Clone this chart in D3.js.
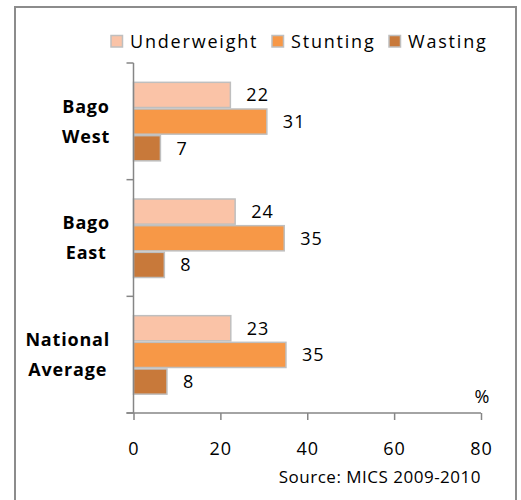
<!DOCTYPE html>
<html><head><meta charset="utf-8">
<script src="https://cdn.jsdelivr.net/npm/d3@7"></script>
<style>body{margin:0;background:#fff}svg{display:block;font-family:"Open Sans",sans-serif}</style>
</head><body><svg id="c" width="521" height="500"></svg>
<script>
const categories = [["Bago","West"],["Bago","East"],["National","Average"]];
const seriesNames = ["Underweight","Stunting","Wasting"];
const underweight = [22.3, 23.4, 22.4];
const stunting = [30.7, 34.7, 35.1];
const wasting = [6.2, 7.1, 7.7];
const underweightLabels = ["22","24","23"];
const stuntingLabels = ["31","35","35"];
const wastingLabels = ["7","8","8"];
const xTicks = [0,20,40,60,80];
const colors = ["#FAC3A7","#F79847","#C8793A"];

const svg = d3.select("#c");
svg.append("rect").attr("x",15).attr("y",7).attr("width",501).attr("height",500)
  .attr("fill","none").attr("stroke","#8C8C8C").attr("stroke-width",2);

const x = d3.scaleLinear().domain([0,80]).range([133.5,481]);
const y = d3.scaleBand().domain(d3.range(categories.length)).range([63,413]);
const inner = d3.scaleBand().domain(d3.range(3)).range([0,80]);

const series = [
  {name:seriesNames[0], vals:underweight, labels:underweightLabels},
  {name:seriesNames[1], vals:stunting, labels:stuntingLabels},
  {name:seriesNames[2], vals:wasting, labels:wastingLabels}
];
const groupOffset = (y.bandwidth()-80)/2;

series.forEach((s,si)=>{
  const g = svg.append("g");
  g.selectAll("rect").data(s.vals).join("rect")
    .attr("x", x(0))
    .attr("y",(d,i)=>y(i)+groupOffset+inner(si)+1)
    .attr("width",d=>x(d)-x(0))
    .attr("height",inner.bandwidth()-1.5)
    .attr("fill",colors[si]).attr("stroke","#BFBFBF").attr("stroke-width",1.5);
  g.selectAll("text").data(s.vals).join("text")
    .attr("x",d=>x(d)+16)
    .attr("y",(d,i)=>y(i)+groupOffset+inner(si)+inner.bandwidth()/2+0.5)
    .attr("dy","0.35em").attr("font-size",18).attr("letter-spacing",1).attr("fill","#000")
    .text((d,i)=>s.labels[i]);
});

// y axis
const yAxisG = svg.append("g");
yAxisG.append("line").attr("x1",x(0)).attr("x2",x(0)).attr("y1",63).attr("y2",413)
  .attr("stroke","#868686").attr("stroke-width",1.5);
const yTickPos = d3.range(categories.length).map(i=>y(i)).concat([413]);
yAxisG.selectAll("line.t").data(yTickPos).join("line").attr("class","t")
  .attr("x1",x(0)-7).attr("x2",x(0)).attr("y1",d=>d).attr("y2",d=>d)
  .attr("stroke","#868686").attr("stroke-width",1.5);

// category labels: lines centred within a block right-aligned at x=110
categories.forEach((c,i)=>{
  const cy = y(i)+y.bandwidth()/2;
  const t = svg.append("text").attr("text-anchor","middle")
    .attr("font-size",18).attr("font-weight","bold").attr("letter-spacing",0.8).attr("fill","#000");
  const s1 = t.append("tspan").attr("y",cy-15).attr("dy","0.35em").text(c[0]);
  const s2 = t.append("tspan").attr("y",cy+15).attr("dy","0.35em").text(c[1]);
  const w = Math.max(s1.node().getComputedTextLength(), s2.node().getComputedTextLength());
  const cx = 110 - w/2;
  s1.attr("x",cx); s2.attr("x",cx);
});

// x axis
const xAxis = d3.axisBottom(x).tickValues(xTicks).tickSize(7).tickSizeOuter(0).tickPadding(22);
const xg = svg.append("g").attr("transform","translate(0,413)").call(xAxis);
xg.select(".domain").attr("stroke","#868686").attr("stroke-width",1.5).attr("d",`M${x(0)-7},0H${x(80)}`);
xg.selectAll(".tick line").attr("stroke","#868686").attr("stroke-width",1.5);
xg.selectAll(".tick text").attr("font-size",18).attr("letter-spacing",1).attr("fill","#000").attr("font-family","'Open Sans',sans-serif");

svg.append("text").attr("x",482).attr("y",397).attr("dy","0.35em").attr("text-anchor","middle")
  .attr("font-size",18).text("%");
svg.append("text").attr("x",481).attr("y",477).attr("dy","0.35em").attr("text-anchor","end")
  .attr("font-size",17).attr("letter-spacing",0.5).text("Source: MICS 2009-2010");

// legend
const legendX = [111,272,389];
const lg = svg.append("g");
series.forEach((s,si)=>{
  lg.append("rect").attr("x",legendX[si]).attr("y",35.5).attr("width",11.5).attr("height",11.5)
    .attr("fill",colors[si]).attr("stroke","#BFBFBF").attr("stroke-width",1.5);
  lg.append("text").attr("x",legendX[si]+19).attr("y",41.5).attr("dy","0.35em")
    .attr("font-size",18).attr("letter-spacing",1.8).text(s.name);
});
</script></body></html>
